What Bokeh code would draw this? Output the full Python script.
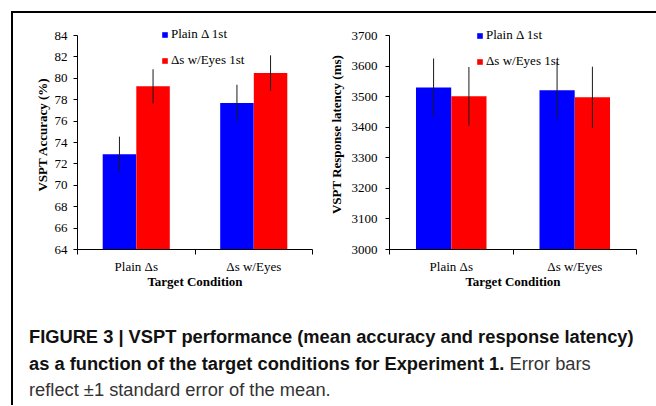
from bokeh.plotting import figure
from bokeh.models import (Range1d, FixedTicker, SingleIntervalTicker, Legend,
                          LegendItem, ColumnDataSource, Div, Spacer)
from bokeh.layouts import row, column
from bokeh.embed import file_html
from bokeh.resources import INLINE
from bokeh.transform import dodge

# ---------------- data ----------------
categories = ["Plain Δs", "Δs w/Eyes"]
series = ["Plain Δ 1st", "Δs w/Eyes 1st"]
series_colors = ["#0000FF", "#FF0000"]

acc_plain_first = [72.9, 77.7]
acc_plain_first_se = [1.65, 1.7]
acc_eyes_first = [79.25, 80.5]
acc_eyes_first_se = [1.6, 1.65]
acc_range = [64, 84]
acc_step = 2

lat_plain_first = [3530, 3521]
lat_plain_first_se = [95, 92]
lat_eyes_first = [3501, 3498]
lat_eyes_first_se = [96, 100]
lat_range = [3000, 3700]
lat_step = 100

x_title = "Target Condition"
acc_title = "VSPT Accuracy (%)"
lat_title = "VSPT Response latency (ms)"

SERIF = "Liberation Serif"
BAR_W = 0.285
OFF = 0.143
PAD = 0.075   # headroom above the top tick (legend sits there)


def make_chart(v1, se1, v2, se2, yr, step, ylabel, fw, bl, br,
               legend_loc, tick_standoff, label_standoff):
    n = len(categories)
    cat_pos = [i + 0.5 for i in range(n)]
    bounds = list(range(n + 1))
    src = ColumnDataSource(dict(
        x=cat_pos,
        top1=v1, lo1=[a - b for a, b in zip(v1, se1)], hi1=[a + b for a, b in zip(v1, se1)],
        top2=v2, lo2=[a - b for a, b in zip(v2, se2)], hi2=[a + b for a, b in zip(v2, se2)],
    ))
    p = figure(frame_width=fw, frame_height=230, x_range=Range1d(0, n),
               y_range=Range1d(yr[0], yr[1] + (yr[1] - yr[0]) * PAD),
               output_backend="svg", toolbar_location=None,
               min_border_left=bl, min_border_right=br,
               min_border_top=6, min_border_bottom=50, margin=0)
    p.outline_line_color = None
    p.grid.visible = False
    p.background_fill_color = "white"
    p.border_fill_color = "white"

    b1 = p.vbar(x=dodge("x", -OFF), top="top1", bottom=yr[0], width=BAR_W,
                source=src, fill_color=series_colors[0], line_color=None)
    b2 = p.vbar(x=dodge("x", OFF), top="top2", bottom=yr[0], width=BAR_W,
                source=src, fill_color=series_colors[1], line_color=None)
    p.segment(x0=dodge("x", -OFF), x1=dodge("x", -OFF), y0="lo1", y1="hi1",
              source=src, line_color="#1a1a1a", line_width=1)
    p.segment(x0=dodge("x", OFF), x1=dodge("x", OFF), y0="lo2", y1="hi2",
              source=src, line_color="#1a1a1a", line_width=1)

    xa = p.xaxis[0]
    xa.ticker = FixedTicker(ticks=cat_pos, minor_ticks=bounds)
    xa.major_label_overrides = {pos: c for pos, c in zip(cat_pos, categories)}
    xa.major_tick_out = 0
    xa.major_tick_in = 0
    xa.minor_tick_out = 5
    xa.minor_tick_in = 0
    xa.minor_tick_line_color = "black"
    xa.major_label_standoff = 4
    xa.axis_label = x_title
    xa.axis_label_standoff = -3

    ya = p.yaxis[0]
    ya.ticker = SingleIntervalTicker(interval=step, num_minor_ticks=0)
    ya.bounds = (yr[0], yr[1])
    ya.major_tick_out = 4
    ya.major_tick_in = 0
    ya.minor_tick_line_color = None
    ya.major_label_standoff = tick_standoff
    ya.axis_label = ylabel
    ya.axis_label_standoff = label_standoff

    for ax in (xa, ya):
        ax.axis_line_color = "black"
        ax.major_tick_line_color = "black"
        ax.major_label_text_font = SERIF
        ax.major_label_text_font_size = "13px"
        ax.major_label_text_color = "black"
        ax.axis_label_text_font = SERIF
        ax.axis_label_text_font_size = "13px"
        ax.axis_label_text_font_style = "bold"
        ax.axis_label_text_color = "black"

    legend = Legend(items=[LegendItem(label=series[0], renderers=[b1]),
                           LegendItem(label=series[1], renderers=[b2])],
                    location=legend_loc, orientation="vertical")
    legend.border_line_color = None
    legend.background_fill_alpha = 0
    legend.padding = 0
    legend.margin = 0
    legend.spacing = 10
    legend.glyph_width = 7
    legend.glyph_height = 7
    legend.label_standoff = 3
    legend.label_height = 15
    legend.label_text_font = SERIF
    legend.label_text_font_size = "13px"
    legend.label_text_color = "black"
    p.add_layout(legend)
    return p


p1 = make_chart(acc_plain_first, acc_plain_first_se, acc_eyes_first, acc_eyes_first_se,
                acc_range, acc_step, acc_title, 235, 64, 8, (84, 181), 6, 2)
p2 = make_chart(lat_plain_first, lat_plain_first_se, lat_eyes_first, lat_eyes_first_se,
                lat_range, lat_step, lat_title, 247, 69, 20, (87, 180), 8, 5)

caption_html = (
    '<div style="padding-left:16px;font-family:\'Liberation Sans\',Arial,sans-serif;'
    'font-size:18.3px;line-height:26.5px;color:#111;white-space:nowrap;">'
    '<b>FIGURE 3 | VSPT performance (mean accuracy and response latency)</b><br>'
    '<b>as a function of the target conditions for Experiment 1.</b>'
    '<span style="color:#333"> Error bars</span><br>'
    '<span style="color:#333">reflect ±1 standard error of the mean.</span>'
    '</div>'
)
caption = Div(text=caption_html, width=643, height=78, margin=(25, 0, 0, 0))

top_line = Div(text="", width=645, height=2, margin=0,
               styles={"background-color": "black"})
left_line = Div(text="", width=2, height=392, margin=0,
                styles={"background-color": "black"})

content = column(row(p1, p2, spacing=0), caption, spacing=0)
framed = column(top_line, row(left_line, content, spacing=0), spacing=0)
page = column(Spacer(width=1, height=11, margin=0),
              row(Spacer(width=11, height=1, margin=0), framed, spacing=0),
              spacing=0)

with open("out.html", "w") as f:
    f.write(file_html(page, INLINE))
